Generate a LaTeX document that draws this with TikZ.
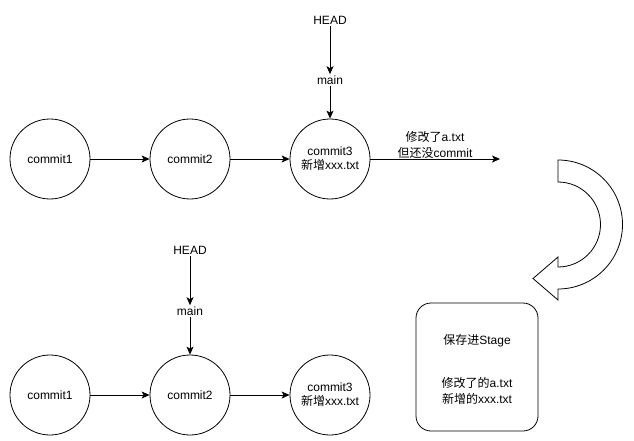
\documentclass[tikz,border=0pt]{standalone}
\usepackage{fontspec}
\setmainfont{Liberation Sans}
\newfontfamily\cjk{Noto Sans CJK SC}
\usetikzlibrary{arrows.meta}

\tikzset{
  commit/.style={draw, circle, minimum size=80pt, inner sep=0pt, align=center, font=\fontsize{12}{14}\selectfont},
  lbl/.style={inner sep=1pt, align=center, font=\fontsize{12}{15}\selectfont},
  link/.style={-{Stealth[length=8pt,width=7pt,inset=2pt]}}
}

\begin{document}
\begin{tikzpicture}[x=1pt, y=-1pt, line width=0.8pt]
\useasboundingbox (0,0) rectangle (634,441);

% top row
\node [commit] (c1) at (50,159) {commit1};
\node [commit] (c2) at (190,159) {commit2};
\node [commit] (c3) at (330,159) {commit3\\{\cjk 新增}xxx.txt};
\node [lbl] (head) at (330,20) {HEAD};
\node [lbl] (main) at (330,80) {main};
\coordinate (free) at (500,159);

\draw [link] (c1) -- (c2);
\draw [link] (c2) -- (c3);
\draw [link] (head) -- (main);
\draw [link] (main) -- (c3);
\draw [link] (c3) -- (free);
\node [lbl, font=\fontsize{12}{16}\selectfont] (edit) at (435,145) {{\cjk 修改了}a.txt\\{\cjk 但还没}commit};

% turn arrow
\draw (558,160) arc [start angle=-90, end angle=90, radius=64.5] -- (558,300) -- (533,278.5)
  -- (558,257) -- (558,267) arc [start angle=90, end angle=-90, radius=42.5] -- cycle;

% bottom row
\node [commit] (d1) at (50,395) {commit1};
\node [commit] (d2) at (190,395) {commit2};
\node [commit] (d3) at (330,395) {commit3\\{\cjk 新增}xxx.txt};
\node [lbl] (head2) at (190,250) {HEAD};
\node [lbl] (main2) at (190,311) {main};

\draw [link] (d1) -- (d2);
\draw [link] (d2) -- (d3);
\draw [link] (head2) -- (main2);
\draw [link] (main2) -- (d2);

% stage box
\draw [rounded corners=15pt] (416,303) rectangle (538,431);
\node [lbl] (stage) at (477,341) {{\cjk 保存进}Stage};
\node [lbl, font=\fontsize{12}{16}\selectfont] (staged) at (477,391) {{\cjk 修改了的}a.txt\\{\cjk 新增的}xxx.txt};
\end{tikzpicture}
\end{document}
